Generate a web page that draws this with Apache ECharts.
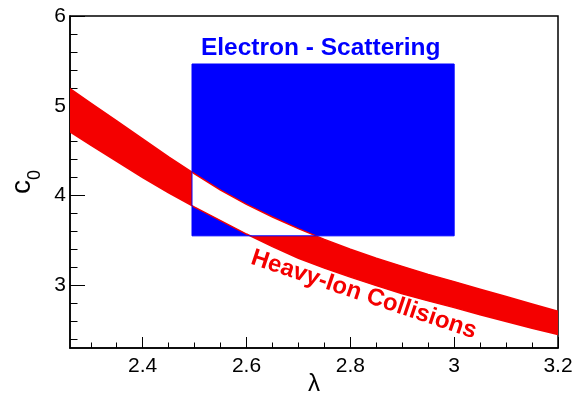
<!DOCTYPE html>
<html>
<head>
<meta charset="utf-8">
<script src="https://cdn.jsdelivr.net/npm/echarts@6/dist/echarts.min.js"></script>
<style>
  html, body { margin: 0; padding: 0; background: #fff; }
  #chart { width: 586px; height: 399px; }
</style>
</head>
<body>
<div id="chart"></div>
<script>
// heavy-ion band, edges
const lambda  = [2.26, 2.30, 2.35, 2.40, 2.45, 2.50, 2.55, 2.60, 2.65, 2.70, 2.75,
                 2.80, 2.85, 2.90, 2.95, 3.00, 3.05, 3.10, 3.15, 3.20];
const c0Upper = [5.19, 5.03, 4.83, 4.63, 4.43, 4.24, 4.06, 3.90, 3.76, 3.63, 3.51,
                 3.40, 3.30, 3.21, 3.12, 3.04, 2.955, 2.875, 2.79, 2.71];
const c0Lower = [4.71, 4.56, 4.38, 4.20, 4.03, 3.87, 3.72, 3.57, 3.43, 3.30, 3.19,
                 3.09, 2.995, 2.905, 2.825, 2.75, 2.67, 2.595, 2.52, 2.45];

// electron scattering box
const boxLambda = [2.495, 3.0];
const boxC0 = [3.55, 5.465];

// ticks
const xMajor = [2.4, 2.6, 2.8, 3, 3.2];
const xMinor = [2.3, 2.35, 2.45, 2.5, 2.55, 2.65, 2.7, 2.75, 2.85, 2.9, 2.95, 3.05, 3.1, 3.15];
const yMajor = [3, 4, 5, 6];
const yMinor = [2.4, 2.6, 2.8, 3.2, 3.4, 3.6, 3.8, 4.2, 4.4, 4.6, 4.8, 5.2, 5.4, 5.6, 5.8];

const X_MIN = 2.26, X_MAX = 3.2, Y_MIN = 2.3, Y_MAX = 6;
const FONT = '"Liberation Sans", Arial, sans-serif';
const RED = '#f40000', BLUE = '#0000ff';

// Sutherland-Hodgman against an axis aligned box (data space)
function clipPoly(pts, x0, x1, y0, y1) {
    const planes = [[0, x0, 1], [0, x1, -1], [1, y0, 1], [1, y1, -1]];
    let out = pts;
    planes.forEach(([k, v, s]) => {
        const inp = out;
        out = [];
        for (let i = 0; i < inp.length; i++) {
            const a = inp[i], b = inp[(i + 1) % inp.length];
            const ina = s * (a[k] - v) >= 0, inb = s * (b[k] - v) >= 0;
            if (ina) out.push(a);
            if (ina !== inb) {
                const t = (v - a[k]) / (b[k] - a[k]);
                out.push([a[0] + t * (b[0] - a[0]), a[1] + t * (b[1] - a[1])]);
            }
        }
    });
    return out;
}

function renderPlot(params, api) {
    const px = p => api.coord(p);
    const upper = lambda.map((x, i) => [x, c0Upper[i]]);
    const lower = lambda.map((x, i) => [x, c0Lower[i]]);
    const band = upper.concat(lower.slice().reverse());
    const overlap = clipPoly(band, boxLambda[0], boxLambda[1], boxC0[0], boxC0[1]);
    const tl = px([boxLambda[0], boxC0[1]]);
    const br = px([boxLambda[1], boxC0[0]]);
    const box = { x: tl[0], y: tl[1], width: br[0] - tl[0], height: br[1] - tl[1] };
    const eLab = px([2.743, 5.643]);
    const hLab = px([2.826, 2.894]);

    return {
        type: 'group',
        children: [
            { type: 'polygon', shape: { points: band.map(px) }, style: { fill: RED } },
            { type: 'rect', shape: box, style: { fill: BLUE } },
            { type: 'polygon', shape: { points: overlap.map(px) }, style: { fill: '#fff' } },
            { type: 'polyline', shape: { points: upper.map(px) }, style: { fill: null, stroke: RED, lineWidth: 1.5 } },
            { type: 'polyline', shape: { points: lower.map(px) }, style: { fill: null, stroke: RED, lineWidth: 1.5 } },
            { type: 'rect', shape: box, style: { fill: null, stroke: BLUE, lineWidth: 1 } },
            {
                type: 'text', x: eLab[0], y: eLab[1],
                style: { text: 'Electron - Scattering', fill: BLUE, font: 'bold 24.5px ' + FONT, align: 'center', verticalAlign: 'middle' }
            },
            {
                type: 'text', x: hLab[0], y: hLab[1], rotation: -18.5 * Math.PI / 180,
                style: { text: 'Heavy-Ion Collisions', fill: RED, font: 'bold 24px ' + FONT, align: 'center', verticalAlign: 'middle' }
            }
        ]
    };
}

const chart = echarts.init(document.getElementById('chart'));

const labelStyle = { color: '#000', fontSize: 21, fontFamily: FONT };

chart.setOption({
    animation: false,
    grid: {
        left: 70, right: 28, top: 16, bottom: 51,
        outerBoundsMode: 'none', containLabel: false,
        show: true, borderColor: '#000', borderWidth: 1.5
    },
    xAxis: [
        {
            type: 'value', min: X_MIN, max: X_MAX,
            name: 'λ', nameLocation: 'middle', nameGap: 24, nameMoveOverlap: false,
            nameTextStyle: { color: '#000', fontSize: 24, fontFamily: FONT },
            axisLine: { show: true, onZero: false, lineStyle: { color: '#000', width: 1.5 } },
            axisTick: { show: true, inside: true, length: 11, customValues: xMajor, lineStyle: { color: '#000' } },
            axisLabel: { show: true, margin: 8, customValues: xMajor, ...labelStyle },
            splitLine: { show: false }
        },
        {
            type: 'value', min: X_MIN, max: X_MAX, position: 'bottom',
            axisLine: { show: false },
            axisTick: { show: true, inside: true, length: 5.5, customValues: xMinor, lineStyle: { color: '#000' } },
            axisLabel: { show: false },
            splitLine: { show: false }
        }
    ],
    yAxis: [
        {
            type: 'value', min: Y_MIN, max: Y_MAX,
            name: '{c|c}{s|0}', nameLocation: 'middle', nameGap: 26, nameRotate: 90, nameMoveOverlap: false,
            nameTextStyle: {
                color: '#000', fontFamily: FONT,
                rich: {
                    c: { fontSize: 28, fontFamily: FONT, color: '#000', verticalAlign: 'bottom', padding: [0, 0, 8, 0] },
                    s: { fontSize: 18, fontFamily: FONT, color: '#000', verticalAlign: 'bottom' }
                }
            },
            axisLine: { show: true, onZero: false, lineStyle: { color: '#000', width: 1.5 } },
            axisTick: { show: true, inside: true, length: 15, customValues: yMajor, lineStyle: { color: '#000' } },
            axisLabel: { show: true, margin: 4, customValues: yMajor, ...labelStyle },
            splitLine: { show: false }
        },
        {
            type: 'value', min: Y_MIN, max: Y_MAX, position: 'left',
            axisLine: { show: false },
            axisTick: { show: true, inside: true, length: 7.5, customValues: yMinor, lineStyle: { color: '#000' } },
            axisLabel: { show: false },
            splitLine: { show: false }
        }
    ],
    series: [
        {
            type: 'custom',
            xAxisIndex: 0,
            yAxisIndex: 0,
            clip: true,
            silent: true,
            data: [[X_MIN, Y_MIN]],
            renderItem: renderPlot
        }
    ]
});
</script>
</body>
</html>
